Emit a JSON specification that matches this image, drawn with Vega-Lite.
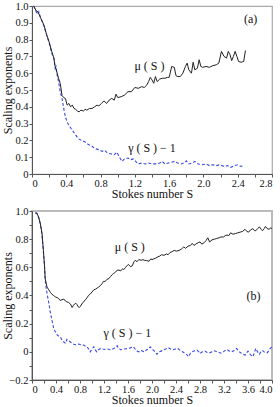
{
  "$schema": "https://vega.github.io/schema/vega-lite/v6.json",
  "padding": {"left": 0, "top": 0, "right": 0, "bottom": 0},
  "spacing": 4,
  "config": {
    "font": "Liberation Serif",
    "view": {"stroke": "#aaa", "strokeWidth": 1.2},
    "axis": {
      "grid": false,
      "domainColor": "#555",
      "tickColor": "#555",
      "labelColor": "#111",
      "titleColor": "#111",
      "labelFont": "Liberation Serif",
      "titleFont": "Liberation Serif",
      "labelFontSize": 10.5,
      "titleFontSize": 12,
      "titleFontWeight": "normal",
      "tickSize": 3,
      "labelPadding": 1,
      "titlePadding": 1
    },
    "axisX": {"titlePadding": 0},
    "axisY": {"titleX": -18}
  },
  "datasets": {
    "topMu": [
      {"s":0.02,"v":1.0},{"s":0.05,"v":0.97},{"s":0.07,"v":0.965},{"s":0.1,"v":0.93},{"s":0.14,"v":0.885},{"s":0.17,"v":0.83},{"s":0.2,"v":0.786},{"s":0.23,"v":0.73},{"s":0.255,"v":0.69},{"s":0.27,"v":0.64},{"s":0.29,"v":0.607},{"s":0.31,"v":0.57},{"s":0.33,"v":0.538},{"s":0.35,"v":0.468},{"s":0.37,"v":0.455},{"s":0.39,"v":0.449},{"s":0.41,"v":0.41},{"s":0.43,"v":0.42},{"s":0.45,"v":0.4},{"s":0.47,"v":0.41},{"s":0.49,"v":0.39},{"s":0.51,"v":0.385},{"s":0.53,"v":0.375},{"s":0.55,"v":0.37},{"s":0.57,"v":0.38},{"s":0.6,"v":0.375},{"s":0.62,"v":0.385},{"s":0.64,"v":0.38},{"s":0.67,"v":0.39},{"s":0.7,"v":0.39},{"s":0.73,"v":0.4},{"s":0.76,"v":0.41},{"s":0.78,"v":0.405},{"s":0.81,"v":0.42},{"s":0.84,"v":0.435},{"s":0.87,"v":0.42},{"s":0.9,"v":0.44},{"s":0.93,"v":0.45},{"s":0.96,"v":0.44},{"s":0.98,"v":0.475},{"s":1.0,"v":0.455},{"s":1.04,"v":0.46},{"s":1.08,"v":0.47},{"s":1.12,"v":0.49},{"s":1.16,"v":0.49},{"s":1.2,"v":0.515},{"s":1.24,"v":0.51},{"s":1.28,"v":0.52},{"s":1.31,"v":0.515},{"s":1.34,"v":0.53},{"s":1.36,"v":0.55},{"s":1.38,"v":0.575},{"s":1.4,"v":0.56},{"s":1.42,"v":0.54},{"s":1.44,"v":0.58},{"s":1.46,"v":0.55},{"s":1.49,"v":0.565},{"s":1.52,"v":0.57},{"s":1.55,"v":0.57},{"s":1.58,"v":0.575},{"s":1.6,"v":0.575},{"s":1.63,"v":0.64},{"s":1.66,"v":0.635},{"s":1.68,"v":0.585},{"s":1.7,"v":0.58},{"s":1.73,"v":0.58},{"s":1.76,"v":0.6},{"s":1.79,"v":0.64},{"s":1.81,"v":0.66},{"s":1.83,"v":0.62},{"s":1.86,"v":0.6},{"s":1.88,"v":0.665},{"s":1.9,"v":0.62},{"s":1.93,"v":0.63},{"s":1.95,"v":0.68},{"s":1.97,"v":0.64},{"s":1.99,"v":0.635},{"s":2.03,"v":0.64},{"s":2.07,"v":0.635},{"s":2.11,"v":0.645},{"s":2.15,"v":0.65},{"s":2.18,"v":0.66},{"s":2.21,"v":0.73},{"s":2.24,"v":0.7},{"s":2.27,"v":0.69},{"s":2.29,"v":0.73},{"s":2.31,"v":0.71},{"s":2.33,"v":0.675},{"s":2.35,"v":0.7},{"s":2.37,"v":0.73},{"s":2.39,"v":0.7},{"s":2.41,"v":0.67},{"s":2.44,"v":0.665},{"s":2.47,"v":0.67},{"s":2.49,"v":0.735}
    ],
    "topGamma": [
      {"s":0.02,"v":1.0},{"s":0.05,"v":0.965},{"s":0.07,"v":0.95},{"s":0.08,"v":0.965},{"s":0.1,"v":0.93},{"s":0.14,"v":0.88},{"s":0.17,"v":0.83},{"s":0.2,"v":0.78},{"s":0.23,"v":0.72},{"s":0.255,"v":0.69},{"s":0.27,"v":0.63},{"s":0.28,"v":0.64},{"s":0.29,"v":0.6},{"s":0.31,"v":0.548},{"s":0.33,"v":0.488},{"s":0.35,"v":0.45},{"s":0.37,"v":0.39},{"s":0.39,"v":0.34},{"s":0.41,"v":0.31},{"s":0.43,"v":0.29},{"s":0.45,"v":0.275},{"s":0.47,"v":0.26},{"s":0.5,"v":0.24},{"s":0.54,"v":0.21},{"s":0.58,"v":0.2},{"s":0.62,"v":0.19},{"s":0.66,"v":0.175},{"s":0.7,"v":0.165},{"s":0.74,"v":0.15},{"s":0.78,"v":0.145},{"s":0.82,"v":0.135},{"s":0.85,"v":0.14},{"s":0.88,"v":0.125},{"s":0.92,"v":0.12},{"s":0.96,"v":0.115},{"s":0.99,"v":0.13},{"s":1.02,"v":0.1},{"s":1.05,"v":0.075},{"s":1.08,"v":0.09},{"s":1.12,"v":0.095},{"s":1.15,"v":0.085},{"s":1.18,"v":0.09},{"s":1.21,"v":0.075},{"s":1.24,"v":0.06},{"s":1.28,"v":0.065},{"s":1.32,"v":0.06},{"s":1.36,"v":0.065},{"s":1.4,"v":0.06},{"s":1.45,"v":0.06},{"s":1.49,"v":0.065},{"s":1.52,"v":0.075},{"s":1.55,"v":0.06},{"s":1.59,"v":0.065},{"s":1.63,"v":0.07},{"s":1.66,"v":0.075},{"s":1.7,"v":0.065},{"s":1.74,"v":0.06},{"s":1.77,"v":0.065},{"s":1.8,"v":0.078},{"s":1.83,"v":0.06},{"s":1.87,"v":0.065},{"s":1.9,"v":0.075},{"s":1.94,"v":0.06},{"s":1.99,"v":0.055},{"s":2.03,"v":0.06},{"s":2.07,"v":0.05},{"s":2.11,"v":0.055},{"s":2.15,"v":0.05},{"s":2.19,"v":0.055},{"s":2.24,"v":0.045},{"s":2.28,"v":0.05},{"s":2.32,"v":0.04},{"s":2.36,"v":0.05},{"s":2.4,"v":0.055},{"s":2.44,"v":0.045},{"s":2.47,"v":0.05}
    ],
    "botMu": [
      {"s":0.055,"v":0.986},{"s":0.08,"v":0.985},{"s":0.11,"v":0.957},{"s":0.14,"v":0.91},{"s":0.167,"v":0.84},{"s":0.19,"v":0.72},{"s":0.21,"v":0.6},{"s":0.22,"v":0.52},{"s":0.25,"v":0.46},{"s":0.28,"v":0.44},{"s":0.31,"v":0.42},{"s":0.33,"v":0.41},{"s":0.36,"v":0.4},{"s":0.39,"v":0.39},{"s":0.42,"v":0.385},{"s":0.44,"v":0.38},{"s":0.47,"v":0.365},{"s":0.5,"v":0.37},{"s":0.53,"v":0.375},{"s":0.56,"v":0.36},{"s":0.58,"v":0.355},{"s":0.61,"v":0.35},{"s":0.64,"v":0.34},{"s":0.67,"v":0.315},{"s":0.69,"v":0.33},{"s":0.71,"v":0.34},{"s":0.73,"v":0.345},{"s":0.75,"v":0.335},{"s":0.77,"v":0.32},{"s":0.79,"v":0.315},{"s":0.81,"v":0.325},{"s":0.83,"v":0.34},{"s":0.86,"v":0.355},{"s":0.89,"v":0.37},{"s":0.92,"v":0.385},{"s":0.94,"v":0.4},{"s":0.97,"v":0.41},{"s":1.0,"v":0.425},{"s":1.03,"v":0.44},{"s":1.06,"v":0.445},{"s":1.09,"v":0.455},{"s":1.11,"v":0.46},{"s":1.14,"v":0.47},{"s":1.17,"v":0.485},{"s":1.19,"v":0.5},{"s":1.22,"v":0.5},{"s":1.25,"v":0.515},{"s":1.28,"v":0.52},{"s":1.31,"v":0.535},{"s":1.34,"v":0.55},{"s":1.36,"v":0.556},{"s":1.39,"v":0.565},{"s":1.42,"v":0.58},{"s":1.45,"v":0.58},{"s":1.48,"v":0.575},{"s":1.51,"v":0.59},{"s":1.53,"v":0.584},{"s":1.56,"v":0.6},{"s":1.59,"v":0.615},{"s":1.61,"v":0.62},{"s":1.64,"v":0.605},{"s":1.67,"v":0.61},{"s":1.7,"v":0.64},{"s":1.72,"v":0.65},{"s":1.75,"v":0.64},{"s":1.78,"v":0.655},{"s":1.82,"v":0.65},{"s":1.85,"v":0.655},{"s":1.87,"v":0.65},{"s":1.91,"v":0.648},{"s":1.95,"v":0.643},{"s":1.98,"v":0.66},{"s":2.0,"v":0.655},{"s":2.03,"v":0.66},{"s":2.06,"v":0.665},{"s":2.1,"v":0.675},{"s":2.13,"v":0.68},{"s":2.16,"v":0.69},{"s":2.2,"v":0.685},{"s":2.24,"v":0.695},{"s":2.27,"v":0.69},{"s":2.3,"v":0.705},{"s":2.33,"v":0.71},{"s":2.37,"v":0.72},{"s":2.41,"v":0.715},{"s":2.45,"v":0.72},{"s":2.49,"v":0.73},{"s":2.53,"v":0.745},{"s":2.56,"v":0.735},{"s":2.6,"v":0.75},{"s":2.64,"v":0.755},{"s":2.67,"v":0.77},{"s":2.7,"v":0.755},{"s":2.73,"v":0.765},{"s":2.77,"v":0.775},{"s":2.8,"v":0.78},{"s":2.83,"v":0.765},{"s":2.87,"v":0.775},{"s":2.9,"v":0.79},{"s":2.93,"v":0.81},{"s":2.96,"v":0.78},{"s":3.0,"v":0.795},{"s":3.04,"v":0.8},{"s":3.08,"v":0.805},{"s":3.12,"v":0.81},{"s":3.15,"v":0.816},{"s":3.19,"v":0.815},{"s":3.22,"v":0.825},{"s":3.25,"v":0.83},{"s":3.28,"v":0.825},{"s":3.31,"v":0.845},{"s":3.35,"v":0.835},{"s":3.39,"v":0.84},{"s":3.43,"v":0.845},{"s":3.47,"v":0.85},{"s":3.51,"v":0.855},{"s":3.55,"v":0.87},{"s":3.58,"v":0.855},{"s":3.61,"v":0.85},{"s":3.64,"v":0.865},{"s":3.68,"v":0.875},{"s":3.71,"v":0.86},{"s":3.73,"v":0.86},{"s":3.76,"v":0.875},{"s":3.79,"v":0.887},{"s":3.82,"v":0.87},{"s":3.84,"v":0.86},{"s":3.87,"v":0.875},{"s":3.89,"v":0.89},{"s":3.92,"v":0.875},{"s":3.95,"v":0.87},{"s":3.98,"v":0.88},{"s":4.0,"v":0.875}
    ],
    "botGamma": [
      {"s":0.055,"v":0.986},{"s":0.08,"v":0.985},{"s":0.11,"v":0.955},{"s":0.14,"v":0.905},{"s":0.167,"v":0.83},{"s":0.19,"v":0.71},{"s":0.21,"v":0.6},{"s":0.22,"v":0.51},{"s":0.24,"v":0.44},{"s":0.27,"v":0.37},{"s":0.29,"v":0.32},{"s":0.31,"v":0.27},{"s":0.34,"v":0.21},{"s":0.36,"v":0.17},{"s":0.39,"v":0.14},{"s":0.42,"v":0.12},{"s":0.45,"v":0.11},{"s":0.47,"v":0.107},{"s":0.5,"v":0.083},{"s":0.53,"v":0.07},{"s":0.56,"v":0.06},{"s":0.58,"v":0.088},{"s":0.61,"v":0.08},{"s":0.64,"v":0.07},{"s":0.67,"v":0.06},{"s":0.69,"v":0.055},{"s":0.72,"v":0.05},{"s":0.75,"v":0.052},{"s":0.78,"v":0.055},{"s":0.82,"v":0.05},{"s":0.86,"v":0.048},{"s":0.89,"v":0.04},{"s":0.92,"v":0.036},{"s":0.95,"v":0.015},{"s":0.97,"v":0.0},{"s":1.0,"v":0.02},{"s":1.03,"v":0.036},{"s":1.06,"v":0.01},{"s":1.08,"v":0.0},{"s":1.11,"v":0.015},{"s":1.14,"v":0.024},{"s":1.18,"v":0.02},{"s":1.22,"v":0.017},{"s":1.26,"v":0.02},{"s":1.3,"v":0.015},{"s":1.33,"v":0.017},{"s":1.37,"v":0.025},{"s":1.4,"v":0.035},{"s":1.42,"v":0.043},{"s":1.44,"v":0.025},{"s":1.48,"v":0.015},{"s":1.53,"v":0.02},{"s":1.57,"v":0.022},{"s":1.61,"v":0.024},{"s":1.65,"v":0.03},{"s":1.69,"v":0.036},{"s":1.72,"v":0.02},{"s":1.75,"v":0.005},{"s":1.78,"v":0.0},{"s":1.82,"v":0.01},{"s":1.87,"v":0.0},{"s":1.91,"v":0.015},{"s":1.94,"v":0.02},{"s":1.97,"v":0.036},{"s":2.0,"v":0.02},{"s":2.04,"v":0.005},{"s":2.08,"v":-0.017},{"s":2.12,"v":0.0},{"s":2.15,"v":0.005},{"s":2.19,"v":0.012},{"s":2.23,"v":0.02},{"s":2.27,"v":0.03},{"s":2.31,"v":0.02},{"s":2.35,"v":0.015},{"s":2.39,"v":0.02},{"s":2.43,"v":0.024},{"s":2.47,"v":0.01},{"s":2.51,"v":0.0},{"s":2.55,"v":-0.01},{"s":2.58,"v":-0.02},{"s":2.61,"v":-0.035},{"s":2.64,"v":-0.01},{"s":2.67,"v":0.0},{"s":2.71,"v":0.008},{"s":2.75,"v":0.012},{"s":2.78,"v":0.0},{"s":2.8,"v":-0.012},{"s":2.84,"v":0.0},{"s":2.88,"v":0.005},{"s":2.92,"v":-0.005},{"s":2.96,"v":-0.007},{"s":3.0,"v":0.0},{"s":3.04,"v":0.007},{"s":3.08,"v":0.0},{"s":3.12,"v":-0.005},{"s":3.15,"v":-0.01},{"s":3.19,"v":0.0},{"s":3.22,"v":0.01},{"s":3.25,"v":0.017},{"s":3.29,"v":0.005},{"s":3.33,"v":0.0},{"s":3.37,"v":0.01},{"s":3.41,"v":0.024},{"s":3.44,"v":0.01},{"s":3.47,"v":-0.005},{"s":3.51,"v":-0.015},{"s":3.55,"v":-0.024},{"s":3.58,"v":-0.005},{"s":3.6,"v":0.005},{"s":3.64,"v":-0.02},{"s":3.68,"v":-0.035},{"s":3.71,"v":0.0},{"s":3.73,"v":0.024},{"s":3.76,"v":0.0},{"s":3.79,"v":-0.017},{"s":3.82,"v":0.005},{"s":3.84,"v":0.01},{"s":3.88,"v":-0.005},{"s":3.92,"v":-0.007},{"s":3.95,"v":0.01},{"s":3.97,"v":0.024},{"s":4.0,"v":0.035}
    ],
    "topLabels": [
      {"s":1.37,"v":0.64,"t":"μ ( S )"},
      {"s":1.4,"v":0.155,"t":"γ ( S ) − 1"},
      {"s":2.55,"v":0.92,"t":"(a)"}
    ],
    "botLabels": [
      {"s":1.63,"v":0.745,"t":"μ ( S )"},
      {"s":1.59,"v":0.133,"t":"γ ( S ) − 1"},
      {"s":3.69,"v":0.4,"t":"(b)"}
    ]
  },
  "vconcat": [
    {
      "width": 240,
      "height": 168,
      "encoding": {
        "x": {"field": "s", "type": "quantitative",
          "scale": {"domain": [0, 2.8], "nice": false, "zero": false},
          "axis": {"title": "Stokes number S",
            "values": [0,0.2,0.4,0.6,0.8,1.0,1.2,1.4,1.6,1.8,2.0,2.2,2.4,2.6,2.8],
            "labelExpr": "round(datum.value*10) % 4 == 0 ? (datum.value == 0 ? '0' : format(datum.value, '.1f')) : ''"}},
        "y": {"field": "v", "type": "quantitative",
          "scale": {"domain": [0, 1], "nice": false, "zero": false},
          "axis": {"title": "Scaling exponents",
            "values": [0,0.1,0.2,0.3,0.4,0.5,0.6,0.7,0.8,0.9,1.0],
            "labelExpr": "datum.value == 0 ? '0' : format(datum.value, '.1f')"}}
      },
      "layer": [
        {"data": {"name": "topGamma"}, "mark": {"type": "line", "color": "#3b4ae6", "strokeWidth": 1.1, "strokeDash": [3, 2]}},
        {"data": {"name": "topMu"}, "mark": {"type": "line", "color": "#222", "strokeWidth": 1}},
        {"data": {"name": "topLabels"}, "mark": {"type": "text", "font": "Liberation Serif", "fontSize": 12, "color": "#111"},
          "encoding": {"text": {"field": "t"}}}
      ]
    },
    {
      "width": 240,
      "height": 169,
      "view": {"stroke": "#bbb", "strokeWidth": 2},
      "encoding": {
        "x": {"field": "s", "type": "quantitative",
          "scale": {"domain": [0, 4], "nice": false, "zero": false},
          "axis": {"title": "Stokes number S",
            "values": [0,0.2,0.4,0.6,0.8,1.0,1.2,1.4,1.6,1.8,2.0,2.2,2.4,2.6,2.8,3.0,3.2,3.4,3.6,3.8,4.0],
            "labelExpr": "round(datum.value*10) % 4 == 0 ? (datum.value == 0 ? '0' : format(datum.value, '.1f')) : ''"}},
        "y": {"field": "v", "type": "quantitative",
          "scale": {"domain": [-0.2, 1], "nice": false, "zero": false},
          "axis": {"title": "Scaling exponents",
            "values": [-0.2,-0.1,0,0.1,0.2,0.3,0.4,0.5,0.6,0.7,0.8,0.9,1.0],
            "labelExpr": "round(datum.value*10) % 2 == 0 ? (datum.value == 0 ? '0' : format(datum.value, '.1f')) : ''"}}
      },
      "layer": [
        {"data": {"name": "botGamma"}, "mark": {"type": "line", "color": "#3b4ae6", "strokeWidth": 1.1, "strokeDash": [3, 2]}},
        {"data": {"name": "botMu"}, "mark": {"type": "line", "color": "#222", "strokeWidth": 1}},
        {"data": {"name": "botLabels"}, "mark": {"type": "text", "font": "Liberation Serif", "fontSize": 12, "color": "#111"},
          "encoding": {"text": {"field": "t"}}}
      ]
    }
  ]
}
